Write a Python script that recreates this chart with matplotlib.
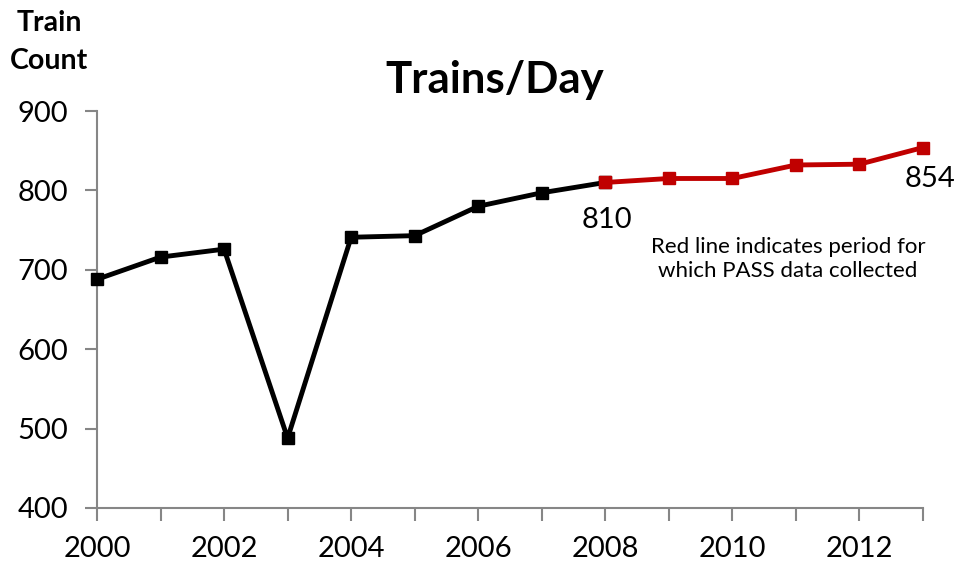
import matplotlib
matplotlib.use("Agg")
import matplotlib.pyplot as plt

years = [2000, 2001, 2002, 2003, 2004, 2005, 2006, 2007, 2008, 2009, 2010, 2011, 2012, 2013]
trains = [688, 716, 726, 488, 741, 743, 780, 797, 810, 815, 815, 832, 833, 854]
pass_start = 2008
yticks = [400, 500, 600, 700, 800, 900]
xticks = [2000, 2002, 2004, 2006, 2008, 2010, 2012]

plt.rcParams['font.family'] = ['Lato', 'DejaVu Sans']

fig = plt.figure(figsize=(9.59, 5.65), dpi=100)
ax = fig.add_axes([97/959, 1-508/565, (923-97)/959, (508-111)/565])

i0 = years.index(pass_start)
ax.plot(years[:i0+1], trains[:i0+1], color='black', lw=3.5, marker='s', ms=8, zorder=3, clip_on=False)
ax.plot(years[i0:], trains[i0:], color='#c00000', lw=3.5, marker='s', ms=8, zorder=4, clip_on=False)

ax.set_xlim(2000, 2013)
ax.set_ylim(400, 900)
ax.set_yticks(yticks)
ax.set_xticks(years, minor=False)
ax.set_xticklabels([str(y) if y in xticks else '' for y in years])
for s in ['top', 'right']:
    ax.spines[s].set_visible(False)
for s in ['left', 'bottom']:
    ax.spines[s].set_color('#868686')
    ax.spines[s].set_linewidth(1.5)
ax.tick_params(axis='both', colors='#868686', width=1.5, length=9, labelsize=21, labelcolor='black')
ax.tick_params(axis='x', pad=11)
ax.tick_params(axis='y', pad=12)

ax.annotate(str(trains[i0]), (years[i0], trains[i0]), xytext=(1, -27), textcoords='offset points',
            ha='center', va='center', fontsize=21)
ax.annotate(str(trains[-1]), (years[-1], trains[-1]), xytext=(5, -23), textcoords='offset points',
            ha='center', va='center', fontsize=21, annotation_clip=False)

fig.text(788/959, 1-259/565, 'Red line indicates period for\nwhich PASS data collected',
         ha='center', va='center', fontsize=16, linespacing=1.25)
fig.text(495/959, 1-80/565, 'Trains/Day', ha='center', va='center', fontsize=31.5, fontweight='bold')
fig.text(49/959, 1-42/565, 'Train\nCount', ha='center', va='center', fontsize=20.5, fontweight='bold', linespacing=1.6)

fig.savefig('out.png', dpi=100)
